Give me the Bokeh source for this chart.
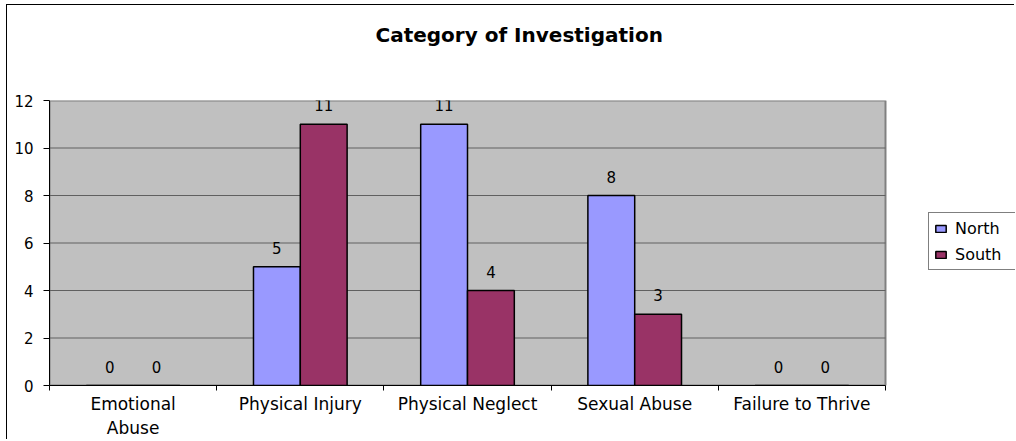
import numpy as np
from bokeh.plotting import figure
from bokeh.models import (ColumnDataSource, FixedTicker, Range1d, LabelSet, Title,
                          Legend, LegendItem)
from bokeh.core.properties import value
from bokeh.embed import file_html
from bokeh.resources import INLINE

categories = ["Emotional\nAbuse", "Physical Injury", "Physical Neglect",
              "Sexual Abuse", "Failure to Thrive"]
north = [0, 5, 11, 8, 0]
south = [0, 11, 4, 3, 0]
series_names = ["North", "South"]
y_ticks = [0, 2, 4, 6, 8, 10, 12]
title_text = "Category of Investigation"

FONT = "DejaVu Sans"
W, H = 1008, 435

n = len(categories)
centers = np.arange(n) + 0.5
bar_w = 0.28
off = 0.14
# the frame extends to the right edge so the legend can sit inside it;
# the categories occupy the first 836 px of the 966 px frame
x_end = n * 966 / 836

p = figure(width=W, height=H, output_backend="svg", toolbar_location=None,
           x_range=Range1d(0, x_end), y_range=Range1d(0, y_ticks[-1]),
           min_border_left=42, min_border_top=95, min_border_right=0,
           min_border_bottom=55)
p.styles = {"border-left": "1px solid black", "border-top": "1px solid black",
            "margin-left": "6px", "margin-top": "4px"}
p.background_fill_color = "white"
p.border_fill_color = "white"
p.outline_line_color = None
p.xgrid.visible = False
p.ygrid.visible = False

# plot area
p.quad(left=[0], right=[n], bottom=[y_ticks[0]], top=[y_ticks[-1]],
       fill_color="#C0C0C0", line_color="#808080", line_width=2)
# horizontal gridlines
gy = y_ticks[1:-1]
p.segment(x0=[0] * len(gy), x1=[n] * len(gy), y0=gy, y1=gy,
          line_color="#606060", line_width=1)

src = ColumnDataSource(dict(xn=centers - off, xs=centers + off,
                            north=north, south=south,
                            ln=[str(v) for v in north], ls=[str(v) for v in south]))

rn = p.vbar(x="xn", top="north", width=bar_w, source=src, fill_color="#9999FF",
            line_color="black", line_width=1.5)
rs = p.vbar(x="xs", top="south", width=bar_w, source=src, fill_color="#993366",
            line_color="black", line_width=1.5)

for xcol, ycol, tcol in [("xn", "north", "ln"), ("xs", "south", "ls")]:
    p.add_layout(LabelSet(x=xcol, y=ycol, text=tcol, source=src, y_offset=13,
                          text_align="center", text_baseline="alphabetic",
                          text_font=value(FONT), text_font_size=value("15px"),
                          text_color="black"))

# axes
p.yaxis.ticker = FixedTicker(ticks=y_ticks)
p.yaxis.axis_line_color = "black"
p.yaxis.major_tick_out = 6
p.yaxis.major_tick_in = 0
p.yaxis.minor_tick_line_color = None
p.yaxis.major_label_standoff = 10
p.yaxis.major_label_text_font = FONT
p.yaxis.major_label_text_font_size = "15px"
p.yaxis.major_label_text_color = "black"

p.xaxis.bounds = (0, n)
p.xaxis.ticker = FixedTicker(ticks=list(centers), minor_ticks=list(range(n + 1)))
p.xaxis.major_label_overrides = {float(c): lab for c, lab in zip(centers, categories)}
p.xaxis.axis_line_color = "black"
p.xaxis.major_tick_out = 0
p.xaxis.major_tick_in = 0
p.xaxis.minor_tick_out = 5
p.xaxis.minor_tick_in = 0
p.xaxis.minor_tick_line_color = "black"
p.xaxis.major_label_standoff = 3
p.xaxis.major_label_text_font = FONT
p.xaxis.major_label_text_font_size = "17px"
p.xaxis.major_label_text_color = "black"

# title: spacer (closest to the plot area) then the real title
p.title.text = ""
p.add_layout(Title(text=" ", text_font_size="10px", standoff=39), "above")
p.add_layout(Title(text=title_text, align="left", offset=326, vertical_align="top",
                   standoff=0, text_font=FONT, text_font_size="20px",
                   text_font_style="bold", text_color="black"), "above")

legend = Legend(items=[LegendItem(label=series_names[0], renderers=[rn]),
                       LegendItem(label=series_names[1], renderers=[rs])],
                location=(879, 115), orientation="vertical",
                label_text_font=FONT, label_text_font_size="16px",
                label_text_color="black", glyph_width=13, glyph_height=9,
                label_standoff=8, label_width=60, label_height=20,
                padding=5, spacing=6, margin=0,
                border_line_color="black", border_line_width=1,
                background_fill_color="white", background_fill_alpha=1)
p.add_layout(legend, "center")

open("out.html", "w").write(file_html(p, INLINE))
